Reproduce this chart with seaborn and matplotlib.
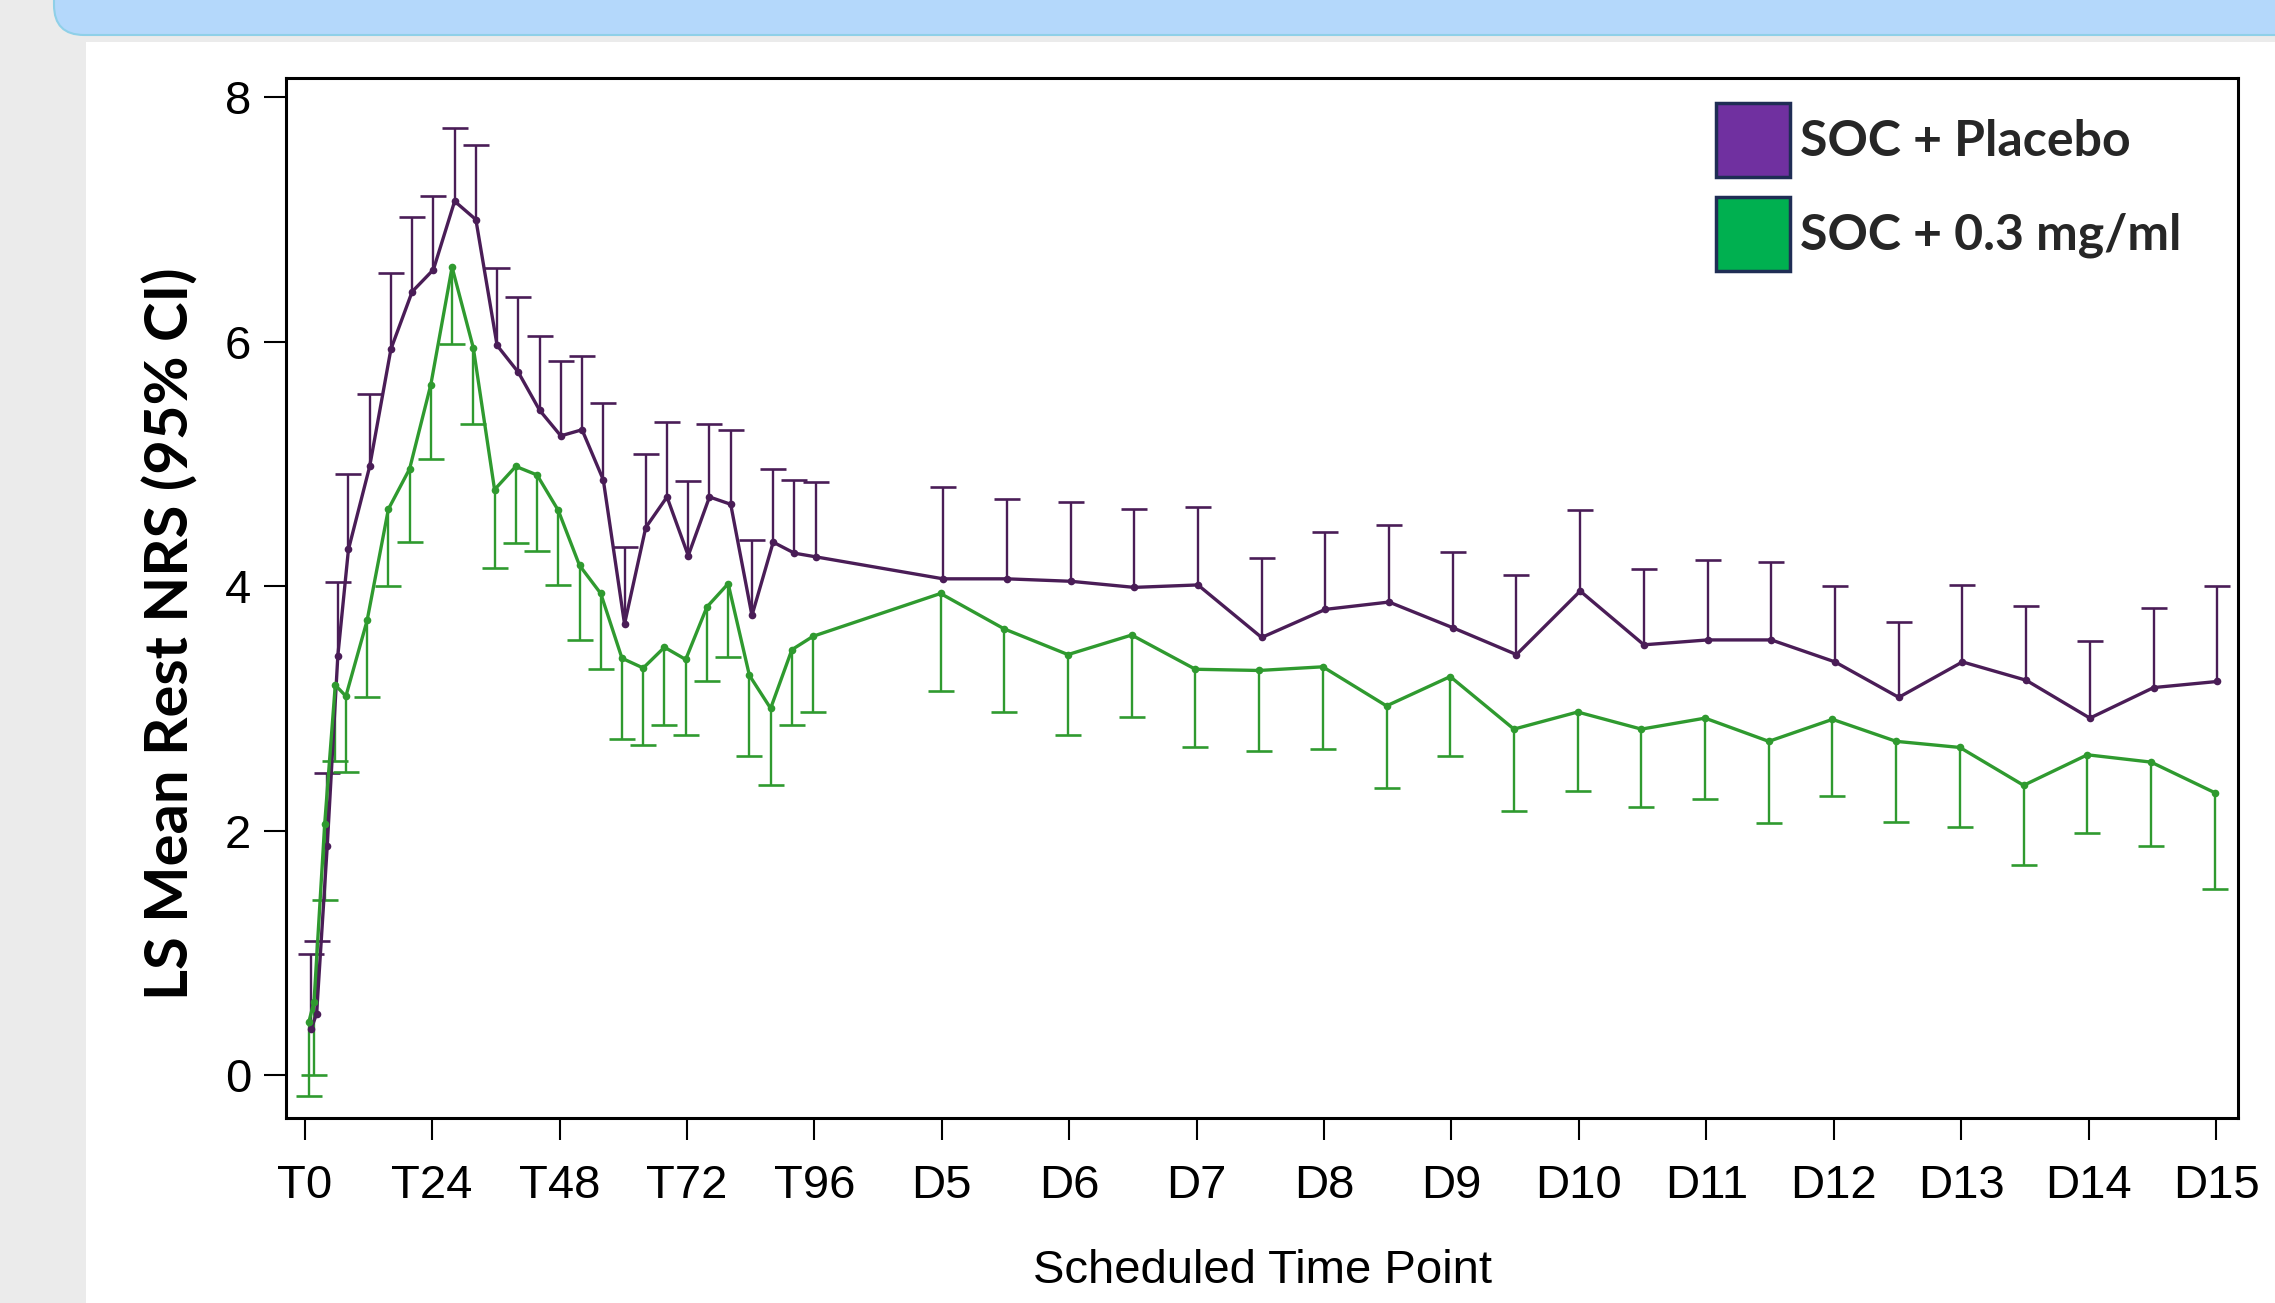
import numpy as np
import pandas as pd
import matplotlib
matplotlib.use("Agg")
import matplotlib.pyplot as plt
import seaborn as sns
from matplotlib.patches import FancyBboxPatch, Rectangle, Patch

# ---------------- data ----------------
tick_labels = ["T0", "T24", "T48", "T72", "T96", "D5", "D6", "D7", "D8",
               "D9", "D10", "D11", "D12", "D13", "D14", "D15"]

# scheduled time points: hours for the first four days, then twice daily
early_hours = [1, 2, 4, 6, 8, 12, 16, 20, 24, 28, 32, 36, 40, 44, 48, 52,
               56, 60, 64, 68, 72, 76, 80, 84, 88, 92, 96]
late_days = [5, 5.5, 6, 6.5, 7, 7.5, 8, 8.5, 9, 9.5, 10, 10.5, 11, 11.5,
             12, 12.5, 13, 13.5, 14, 14.5, 15]

groups = ["SOC + Placebo", "SOC + 0.3 mg/ml"]

placebo_mean = [0.38, 0.50, 1.87, 3.43, 4.30, 4.98, 5.94, 6.41, 6.59, 7.15,
                7.00, 5.97, 5.75, 5.44, 5.23, 5.28, 4.87, 3.69, 4.48, 4.73,
                4.25, 4.73, 4.67, 3.76, 4.36, 4.27, 4.24,
                4.06, 4.06, 4.04, 3.99, 4.01, 3.58, 3.81, 3.87, 3.66, 3.44,
                3.96, 3.52, 3.56, 3.56, 3.38, 3.09, 3.38, 3.23, 2.92, 3.17,
                3.22]
placebo_upper = [0.99, 1.10, 2.47, 4.03, 4.92, 5.57, 6.56, 7.02, 7.19, 7.75,
                 7.61, 6.60, 6.37, 6.05, 5.84, 5.88, 5.50, 4.32, 5.08, 5.34,
                 4.86, 5.33, 5.28, 4.38, 4.96, 4.87, 4.85,
                 4.81, 4.71, 4.69, 4.63, 4.65, 4.23, 4.44, 4.50, 4.28, 4.09,
                 4.62, 4.14, 4.21, 4.20, 4.00, 3.71, 4.01, 3.84, 3.55, 3.82,
                 4.00]

active_mean = [0.43, 0.60, 2.05, 3.19, 3.10, 3.72, 4.63, 4.96, 5.65, 6.61,
               5.95, 4.79, 4.98, 4.91, 4.62, 4.17, 3.94, 3.41, 3.33, 3.50,
               3.40, 3.83, 4.02, 3.27, 3.00, 3.48, 3.59,
               3.94, 3.65, 3.44, 3.60, 3.32, 3.31, 3.34, 3.02, 3.26, 2.83,
               2.97, 2.83, 2.92, 2.73, 2.91, 2.73, 2.68, 2.37, 2.62, 2.56,
               2.31]
active_lower = [-0.17, 0.00, 1.43, 2.57, 2.48, 3.09, 4.00, 4.36, 5.04, 5.98,
                5.33, 4.15, 4.35, 4.29, 4.01, 3.56, 3.32, 2.75, 2.70, 2.86,
                2.78, 3.22, 3.42, 2.61, 2.37, 2.86, 2.97,
                3.14, 2.97, 2.78, 2.93, 2.68, 2.65, 2.67, 2.35, 2.61, 2.16,
                2.32, 2.19, 2.26, 2.06, 2.28, 2.07, 2.03, 1.72, 1.98, 1.87,
                1.52]

line_colors = {"SOC + Placebo": "#4a1d57", "SOC + 0.3 mg/ml": "#2f9a2f"}
legend_colors = {"SOC + Placebo": "#7030a0", "SOC + 0.3 mg/ml": "#00b050"}

# time axis in days since T0 (one tick per 24 h); small dodge between groups
t_days = np.array([h / 24 for h in early_hours] + list(late_days))
dodge = 0.01
df = pd.concat([
    pd.DataFrame({"x": t_days + dodge, "mean": placebo_mean,
                  "bound": placebo_upper, "group": groups[0]}),
    pd.DataFrame({"x": t_days - dodge, "mean": active_mean,
                  "bound": active_lower, "group": groups[1]}),
], ignore_index=True)

# ---------------- fonts ----------------
sns.set_theme(style="ticks")
plt.rcParams["font.family"] = ["Liberation Sans", "DejaVu Sans"]
bold_font = ["Lato", "DejaVu Sans"]
ylab_size, leg_size = 43, 36

# ---------------- figure & page background ----------------
W, H = 2275, 1303
fig = plt.figure(figsize=(W / 100, H / 100), dpi=100, facecolor="#ebebeb")
fig.patches.append(Rectangle((86 / W, 0), 1, 1 - 41.7 / H,
                             transform=fig.transFigure, facecolor="white",
                             edgecolor="none", zorder=-10))
fig.patches.append(FancyBboxPatch((0.54, (H - 35) / 100), 30, 2,
                                  boxstyle="round,pad=0,rounding_size=0.3",
                                  transform=fig.dpi_scale_trans,
                                  facecolor="#b4d8fb", edgecolor="#8fd0e8",
                                  linewidth=1.5, zorder=-9))

ax = fig.add_axes([0.1257, 0.1422, 0.8579, 0.7977])
ax.set_facecolor("white")

# ---------------- lines, markers, one-sided CIs ----------------
sns.lineplot(data=df, x="x", y="mean", hue="group", palette=line_colors,
             estimator=None, sort=False, marker="o", markersize=5.5,
             markeredgewidth=0, linewidth=2.4, legend=False, ax=ax, zorder=3)

for g in groups:
    d = df[df["group"] == g]
    c = line_colors[g]
    ax.vlines(d["x"], d["mean"], d["bound"], colors=c, linewidth=1.7,
              zorder=2)
    ax.plot(d["x"], d["bound"], linestyle="none", marker="_",
            markersize=19, markeredgewidth=1.9, color=c, zorder=2)

# ---------------- axes styling ----------------
ax.set_xlim(-0.147, 15.17)
ax.set_ylim(-0.35, 8.156)
ax.set_xticks(range(len(tick_labels)))
ax.set_xticklabels(tick_labels)
ax.set_yticks([0, 2, 4, 6, 8])
ax.tick_params(axis="both", direction="out", length=16, width=1.5,
               color="black", labelsize=34, labelcolor="black")
ax.tick_params(axis="x", pad=17)
ax.tick_params(axis="y", pad=9)
for s in ax.spines.values():
    s.set_visible(True)
    s.set_color("black")
    s.set_linewidth(2.2)
ax.grid(False)

ax.set_xlabel("Scheduled Time Point", fontsize=34, color="black",
              va="baseline")
ax.xaxis.set_label_coords(0.5006, -0.159)
ax.set_ylabel("LS Mean Rest NRS (95% CI)", fontsize=ylab_size,
              fontweight="bold", family=bold_font, color="black")
ax.yaxis.set_label_coords(-0.045, 0.466)

# ---------------- legend ----------------
fs_px = leg_size * 100 / 72
box_px = 74
hh = (box_px / fs_px - 0.245) / 0.65
handles = [Patch(facecolor=legend_colors[g], edgecolor="#1f2d55",
                 linewidth=2.5, label=g) for g in groups]
leg = ax.legend(handles=handles, loc="upper left",
                bbox_to_anchor=(1716 / W, 1 - 103 / H),
                bbox_transform=fig.transFigure, frameon=False,
                borderpad=0, borderaxespad=0,
                handlelength=box_px / fs_px, handleheight=hh,
                handletextpad=0.2, labelspacing=(93.5 - box_px) / fs_px,
                prop={"family": bold_font, "weight": "bold",
                      "size": leg_size})

fig.savefig("out.png", dpi=100, facecolor=fig.get_facecolor())
